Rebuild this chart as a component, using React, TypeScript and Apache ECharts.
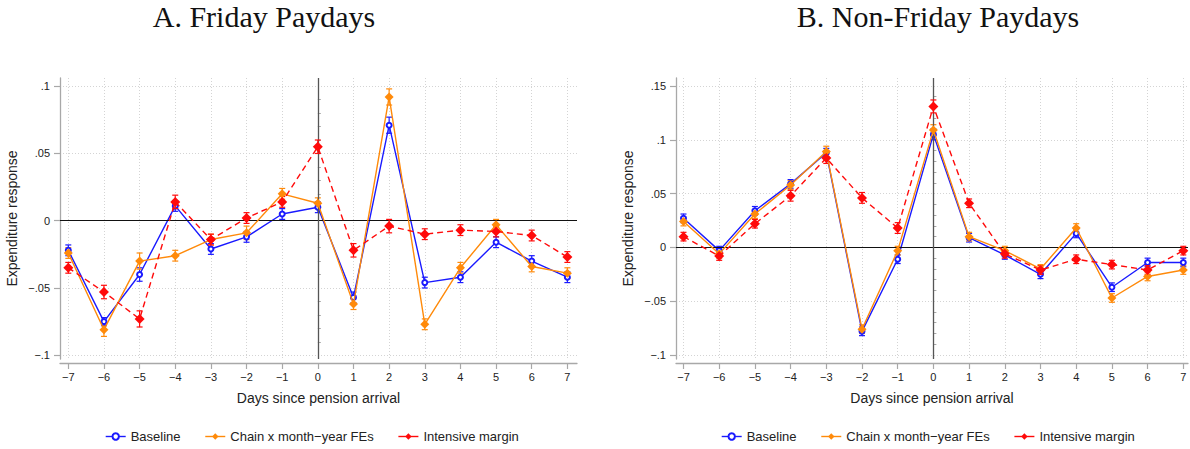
import React, { useEffect, useRef } from "react";
import * as echarts from "echarts";

// ---------- data ----------
const days = [-7, -6, -5, -4, -3, -2, -1, 0, 1, 2, 3, 4, 5, 6, 7];
const xTickLabels = ["−7", "−6", "−5", "−4", "−3", "−2", "−1", "0", "1", "2", "3", "4", "5", "6", "7"];

const seriesNames = ["Baseline", "Chain x month−year FEs", "Intensive margin"];

// Panel A: Friday paydays
const aBaseline = [-0.022, -0.075, -0.040, 0.011, -0.021, -0.012, 0.005, 0.010, -0.057, 0.071, -0.046, -0.042, -0.016, -0.030, -0.042];
const aChain = [-0.024, -0.081, -0.030, -0.026, -0.014, -0.009, 0.020, 0.013, -0.062, 0.092, -0.077, -0.035, -0.003, -0.034, -0.039];
const aIntensive = [-0.035, -0.053, -0.073, 0.014, -0.014, 0.002, 0.014, 0.055, -0.022, -0.004, -0.010, -0.007, -0.008, -0.011, -0.027];
const aBaselineCI = [0.004, 0.003, 0.005, 0.004, 0.004, 0.004, 0.004, 0.004, 0.004, 0.006, 0.004, 0.004, 0.004, 0.004, 0.004];
const aChainCI = [0.004, 0.005, 0.006, 0.004, 0.004, 0.005, 0.004, 0.004, 0.004, 0.006, 0.004, 0.004, 0.004, 0.004, 0.004];
const aIntensiveCI = [0.004, 0.005, 0.006, 0.005, 0.004, 0.004, 0.004, 0.005, 0.005, 0.005, 0.004, 0.004, 0.004, 0.004, 0.004];

// Panel B: Non-Friday paydays
const bBaseline = [0.027, -0.003, 0.034, 0.059, 0.088, -0.078, -0.011, 0.105, 0.009, -0.007, -0.025, 0.013, -0.037, -0.014, -0.014];
const bChain = [0.024, -0.006, 0.031, 0.058, 0.089, -0.076, -0.003, 0.109, 0.010, -0.003, -0.020, 0.018, -0.047, -0.027, -0.021];
const bIntensive = [0.010, -0.008, 0.022, 0.048, 0.083, 0.046, 0.018, 0.131, 0.041, -0.006, -0.021, -0.011, -0.016, -0.021, -0.003];
const bBaselineCI = [0.004, 0.004, 0.004, 0.004, 0.004, 0.004, 0.004, 0.005, 0.004, 0.004, 0.004, 0.004, 0.004, 0.004, 0.004];
const bChainCI = [0.004, 0.004, 0.004, 0.004, 0.005, 0.004, 0.004, 0.005, 0.004, 0.004, 0.004, 0.004, 0.004, 0.004, 0.004];
const bIntensiveCI = [0.004, 0.004, 0.004, 0.005, 0.005, 0.005, 0.005, 0.006, 0.004, 0.004, 0.004, 0.004, 0.004, 0.004, 0.004];

const yTicksA = [-0.1, -0.05, 0, 0.05, 0.1];
const yTickLabelsA = ["−.1", "−.05", "0", ".05", ".1"];
const yMinorA = [-0.09, -0.08, -0.07, -0.06, -0.04, -0.03, -0.02, -0.01, 0.01, 0.02, 0.03, 0.04, 0.06, 0.07, 0.08, 0.09];
const yTicksB = [-0.1, -0.05, 0, 0.05, 0.1, 0.15];
const yTickLabelsB = ["−.1", "−.05", "0", ".05", ".1", ".15"];
const yMinorB = [-0.09, -0.08, -0.07, -0.06, -0.04, -0.03, -0.02, -0.01, 0.01, 0.02, 0.03, 0.04, 0.06, 0.07, 0.08, 0.09, 0.11, 0.12, 0.13, 0.14];

const titles = ["A. Friday Paydays", "B. Non-Friday Paydays"];
const xTitle = "Days since pension arrival";
const yTitle = "Expenditure response";

// ---------- styles ----------
const BLUE = "#1a1aff";
const ORANGE = "#ff8a0a";
const RED = "#ff0a0a";
const AXIS_GRAY = "#a8a8a8";
const SANS = "Liberation Sans, Arial, sans-serif";
const SERIF = "Liberation Serif, Times New Roman, serif";

function lookup(values: number[], labels: string[]) {
  return (v: number) => {
    for (let i = 0; i < values.length; i++) if (Math.abs(values[i] - v) < 1e-6) return labels[i];
    return "";
  };
}

function xAxisCfg(gridIndex: number, min: number, max: number) {
  return {
    type: "value",
    gridIndex,
    min,
    max,
    offset: 4,
    name: xTitle,
    nameLocation: "middle",
    nameGap: 28,
    nameTextStyle: { fontFamily: SANS, fontSize: 14, color: "#222" },
    axisLine: { show: true, onZero: false, lineStyle: { color: AXIS_GRAY, width: 1.3 } },
    axisTick: { show: true, length: 6, customValues: days, lineStyle: { color: AXIS_GRAY, width: 1.2 } },
    axisLabel: {
      customValues: days,
      margin: 8,
      fontFamily: SANS,
      fontSize: 11,
      color: "#222",
      formatter: lookup(days, xTickLabels),
    },
    splitLine: { show: true, lineStyle: { color: "#d4d4d4", width: 1, type: [1, 2] } },
  };
}

function yAxisCfg(gridIndex: number, min: number, max: number, ticks: number[], labels: string[]) {
  return {
    type: "value",
    gridIndex,
    min,
    max,
    name: yTitle,
    nameLocation: "middle",
    nameGap: 41,
    nameTextStyle: { fontFamily: SANS, fontSize: 14, color: "#222" },
    axisLine: { show: true, onZero: false, lineStyle: { color: AXIS_GRAY, width: 1.3 } },
    axisTick: { show: true, length: 6, customValues: ticks, lineStyle: { color: AXIS_GRAY, width: 1.2 } },
    axisLabel: {
      customValues: ticks,
      margin: 10,
      fontFamily: SANS,
      fontSize: 11,
      color: "#222",
      formatter: lookup(ticks, labels),
    },
    splitLine: { show: true, lineStyle: { color: "#d4d4d4", width: 1, type: [1, 2] } },
  };
}

function yMinorCfg(gridIndex: number, min: number, max: number, minor: number[]) {
  return {
    type: "value",
    gridIndex,
    min,
    max,
    axisLine: { show: false },
    axisTick: { show: true, length: 3, customValues: minor, lineStyle: { color: AXIS_GRAY, width: 1 } },
    axisLabel: { show: false, customValues: minor },
    splitLine: { show: false },
  };
}

function lineSeries(name: string, values: number[], axisIdx: number, kind: number) {
  const color = [BLUE, ORANGE, RED][kind];
  return {
    type: "line",
    name,
    xAxisIndex: axisIdx,
    yAxisIndex: axisIdx * 2,
    data: days.map((d, i) => [d, values[i]]),
    symbol: kind === 0 ? "emptyCircle" : "diamond",
    symbolSize: kind === 0 ? 5 : kind === 1 ? 9 : 10,
    lineStyle: { color, width: 1.4, type: kind === 2 ? [6, 4] : "solid" },
    itemStyle: { color, borderColor: color, borderWidth: kind === 0 ? 1.2 : 0 },
    z: 4 + kind,
    silent: true,
  };
}

function errSeries(values: number[], ci: number[], axisIdx: number, kind: number) {
  const color = [BLUE, ORANGE, RED][kind];
  return {
    type: "custom",
    xAxisIndex: axisIdx,
    yAxisIndex: axisIdx * 2,
    data: days.map((d, i) => [d, values[i] - ci[i], values[i] + ci[i]]),
    encode: { x: 0, y: [1, 2] },
    z: 3 + kind,
    silent: true,
    renderItem: (params: any, api: any) => {
      const x = api.value(0);
      const lo = api.coord([x, api.value(1)]);
      const hi = api.coord([x, api.value(2)]);
      const w = 3;
      const style = { stroke: color, lineWidth: 1.2, fill: "none" };
      return {
        type: "group",
        children: [
          { type: "line", shape: { x1: lo[0], y1: lo[1], x2: hi[0], y2: hi[1] }, style },
          { type: "line", shape: { x1: hi[0] - w, y1: hi[1], x2: hi[0] + w, y2: hi[1] }, style },
          { type: "line", shape: { x1: lo[0] - w, y1: lo[1], x2: lo[0] + w, y2: lo[1] }, style },
        ],
      };
    },
  };
}

function refLines(axisIdx: number) {
  return {
    type: "line",
    xAxisIndex: axisIdx,
    yAxisIndex: axisIdx * 2,
    data: [],
    z: 2,
    silent: true,
    markLine: {
      silent: true,
      symbol: "none",
      label: { show: false },
      animation: false,
      data: [
        { yAxis: 0, lineStyle: { color: "#111", width: 1.1, type: "solid" } },
        { xAxis: 0, lineStyle: { color: "#555", width: 1.3, type: "solid" } },
      ],
    },
  };
}

function legendCfg(left: number) {
  return {
    left,
    top: 425,
    orient: "horizontal",
    itemWidth: 20,
    itemHeight: 8,
    itemGap: 24,
    data: seriesNames,
    lineStyle: { type: "solid", width: 1.4 },
    textStyle: { fontFamily: SANS, fontSize: 13, color: "#222" },
    selectedMode: false,
  };
}

export default function App() {
  const ref = useRef<HTMLDivElement>(null);
  useEffect(() => {
    document.body.style.margin = "0";
    const chart = echarts.init(ref.current!, null, { renderer: "svg" });
    const option: any = {
      animation: false,
      backgroundColor: "#ffffff",
      title: [
        {
          text: titles[0],
          left: 264,
          top: 1,
          textAlign: "center",
          padding: 0,
          textStyle: { fontFamily: SERIF, fontSize: 30, fontWeight: "normal", color: "#111" },
        },
        {
          text: titles[1],
          left: 938,
          top: 1,
          textAlign: "center",
          padding: 0,
          textStyle: { fontFamily: SERIF, fontSize: 30, fontWeight: "normal", color: "#111" },
        },
      ],
      legend: [legendCfg(100), legendCfg(716)],
      grid: [
        { left: 60, top: 78, width: 517, height: 281, containLabel: false },
        { left: 676, top: 78, width: 512, height: 281, containLabel: false },
      ],
      xAxis: [xAxisCfg(0, -7.233, 7.27), xAxisCfg(1, -7.21, 7.132)],
      yAxis: [
        yAxisCfg(0, -0.1028, 0.1061, yTicksA, yTickLabelsA),
        yMinorCfg(0, -0.1028, 0.1061, yMinorA),
        yAxisCfg(1, -0.1037, 0.1574, yTicksB, yTickLabelsB),
        yMinorCfg(1, -0.1037, 0.1574, yMinorB),
      ],
      series: [
        refLines(0),
        refLines(1),
        errSeries(aBaseline, aBaselineCI, 0, 0),
        errSeries(aChain, aChainCI, 0, 1),
        errSeries(aIntensive, aIntensiveCI, 0, 2),
        lineSeries(seriesNames[0], aBaseline, 0, 0),
        lineSeries(seriesNames[1], aChain, 0, 1),
        lineSeries(seriesNames[2], aIntensive, 0, 2),
        errSeries(bBaseline, bBaselineCI, 1, 0),
        errSeries(bChain, bChainCI, 1, 1),
        errSeries(bIntensive, bIntensiveCI, 1, 2),
        lineSeries(seriesNames[0], bBaseline, 1, 0),
        lineSeries(seriesNames[1], bChain, 1, 1),
        lineSeries(seriesNames[2], bIntensive, 1, 2),
      ],
    };
    chart.setOption(option);
    return () => chart.dispose();
  }, []);
  return (
    <div
      ref={ref}
      style={{ position: "absolute", left: 0, top: 0, width: 1190, height: 449, background: "#fff" }}
    />
  );
}
